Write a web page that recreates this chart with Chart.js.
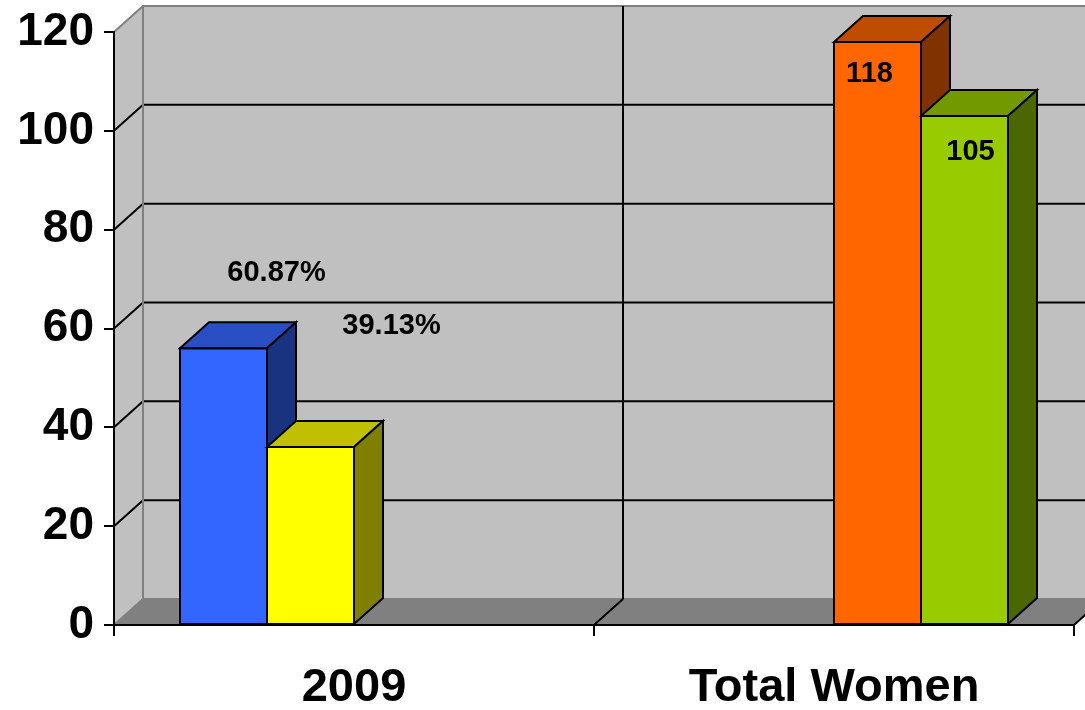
<!DOCTYPE html>
<html>
<head>
<meta charset="utf-8">
<script src="https://cdn.jsdelivr.net/npm/chart.js@4.4.1/dist/chart.umd.min.js"></script>
<style>
    html, body { margin: 0; padding: 0; background: #fff; }
    #wrap { width: 1085px; height: 710px; position: relative; }
</style>
</head>
<body>
<div id="wrap"><canvas id="chart"></canvas></div>
<script>
const categories = ["2009", "Total Women"];

// one slot per series in each category, like the original sheet
const blueValues   = [56, null];
const yellowValues = [36, null];
const orangeValues = [null, 118];
const greenValues  = [null, 103];

const blueLabels   = ["60.87%", null];
const yellowLabels = ["39.13%", null];
const orangeLabels = [null, "118"];
const greenLabels  = [null, "105"];

const yTickValues = [0, 20, 40, 60, 80, 100, 120];

const FONT = "'Liberation Sans', Arial, sans-serif";
const DX = 29, DY = -26;   // depth of the 3d box

// front / top / side colours per series
const faces = [
    { front: "#3366FF", top: "#2A4FC4", side: "#1A3380" },
    { front: "#FFFF00", top: "#C0C000", side: "#808000" },
    { front: "#FF6600", top: "#C04C00", side: "#803300" },
    { front: "#99CC00", top: "#739900", side: "#4C6600" },
];
// where each data label sits relative to its bar (centre x, top y)
const labelNudge = [
    { dx: 53, dy: -75 },
    { dx: 81, dy: -121 },
    { dx: -8, dy: 32 },
    { dx: 6, dy: 36 },
];

function poly(ctx, pts, fill, stroke, lw) {
    ctx.beginPath();
    ctx.moveTo(pts[0][0], pts[0][1]);
    for (let i = 1; i < pts.length; i++) ctx.lineTo(pts[i][0], pts[i][1]);
    ctx.closePath();
    if (fill) { ctx.fillStyle = fill; ctx.fill(); }
    if (stroke) { ctx.strokeStyle = stroke; ctx.lineWidth = lw || 2; ctx.stroke(); }
}

function line(ctx, pts, color, lw) {
    ctx.beginPath();
    ctx.moveTo(pts[0][0], pts[0][1]);
    for (let i = 1; i < pts.length; i++) ctx.lineTo(pts[i][0], pts[i][1]);
    ctx.strokeStyle = color;
    ctx.lineWidth = lw || 2;
    ctx.stroke();
}

const wallsPlugin = {
    id: "walls",
    beforeDraw(chart) {
        const { ctx, chartArea: a, scales: { y } } = chart;
        const L = a.left, R = a.right, T = a.top, B = a.bottom;
        ctx.save();
        // back wall
        poly(ctx, [[L + DX, T + DY], [R + DX, T + DY], [R + DX, B + DY], [L + DX, B + DY]], "#C0C0C0");
        // side wall
        poly(ctx, [[L, T], [L + DX, T + DY], [L + DX, B + DY], [L, B]], "#C0C0C0");
        // floor
        poly(ctx, [[L, B], [L + DX, B + DY], [R + DX, B + DY], [R, B]], "#808080");

        // value gridlines on side and back wall
        yTickValues.forEach(v => {
            if (v === 0) return;
            const py = y.getPixelForValue(v);
            const col = v === y.max ? "#808080" : "#000";
            line(ctx, [[L, py], [L + DX, py + DY], [R + DX, py + DY]], col, 2);
        });

        // wall edges
        line(ctx, [[L + DX, T + DY], [L + DX, B + DY], [R + DX, B + DY]], "#808080", 2);
        line(ctx, [[L, B], [L + DX, B + DY]], "#808080", 2);

        // category dividers: back wall verticals + floor diagonals
        const n = categories.length;
        for (let i = 1; i <= n; i++) {
            const bx = L + i * (R - L) / n;
            if (i < n) line(ctx, [[bx + DX, T + DY], [bx + DX, B + DY]], "#000", 2);
            line(ctx, [[bx, B], [bx + DX, B + DY]], "#000", 2);
        }
        ctx.restore();
    },
    afterDatasetsDraw(chart) {
        const { ctx } = chart;
        const labelSets = [blueLabels, yellowLabels, orangeLabels, greenLabels];
        ctx.save();
        ctx.lineJoin = "miter";
        // draw left to right so each bar's front hides the neighbour's side
        for (let j = 0; j < categories.length; j++) {
            chart.data.datasets.forEach((ds, i) => {
                if (ds.data[j] === null) return;
                const el = chart.getDatasetMeta(i).data[j];
                const { x, y, base, width } = el.getProps(["x", "y", "base", "width"], true);
                const l = x - width / 2, r = x + width / 2, t = y, b = base;
                const f = faces[i];
                poly(ctx, [[l, t], [r, t], [r, b], [l, b]], f.front, "#000", 2);
                poly(ctx, [[l, t], [l + DX, t + DY], [r + DX, t + DY], [r, t]], f.top, "#000", 2);
                poly(ctx, [[r, t], [r + DX, t + DY], [r + DX, b + DY], [r, b]], f.side, "#000", 2);
            });
        }
        // data labels
        ctx.font = "bold 29px " + FONT;
        ctx.fillStyle = "#000";
        ctx.textAlign = "center";
        ctx.textBaseline = "middle";
        chart.data.datasets.forEach((ds, i) => {
            ds.data.forEach((v, j) => {
                const txt = labelSets[i][j];
                if (v === null || !txt) return;
                const el = chart.getDatasetMeta(i).data[j];
                ctx.fillText(txt, el.x + labelNudge[i].dx, el.y + labelNudge[i].dy);
            });
        });
        ctx.restore();
    }
};

const seriesSets = [blueValues, yellowValues, orangeValues, greenValues];

new Chart(document.getElementById("chart"), {
    type: "bar",
    data: {
        labels: categories,
        datasets: seriesSets.map((vals, i) => ({
            data: vals,
            backgroundColor: faces[i].front,
            borderWidth: 0,
            categoryPercentage: 0.725,
            barPercentage: 1.0,
        }))
    },
    options: {
        responsive: true,
        maintainAspectRatio: false,
        animation: false,
        layout: { padding: { top: 32, right: 11, left: 0, bottom: 0 } },
        plugins: { legend: { display: false }, tooltip: { enabled: false } },
        scales: {
            x: {
                offset: true,
                ticks: { color: "#000", font: { family: FONT, size: 47, weight: "bold" }, padding: 24 },
                grid: { offset: true, drawOnChartArea: false, drawTicks: true, tickLength: 11, color: "#000", lineWidth: 2 },
                border: { color: "#000", width: 2 },
                afterFit: s => { s.height = 85; s.paddingLeft = 0; s.paddingRight = 0; }
            },
            y: {
                min: 0,
                max: 120,
                afterBuildTicks: s => { s.ticks = yTickValues.map(v => ({ value: v })); },
                ticks: { color: "#000", font: { family: FONT, size: 46, weight: "bold" }, padding: 10 },
                grid: { drawOnChartArea: false, drawTicks: true, tickLength: 10, color: "#000", lineWidth: 2 },
                border: { color: "#000", width: 2 },
                afterFit: s => { s.width = 114; s.paddingTop = 0; s.paddingBottom = 0; }
            }
        }
    },
    plugins: [wallsPlugin]
});
</script>
</body>
</html>
